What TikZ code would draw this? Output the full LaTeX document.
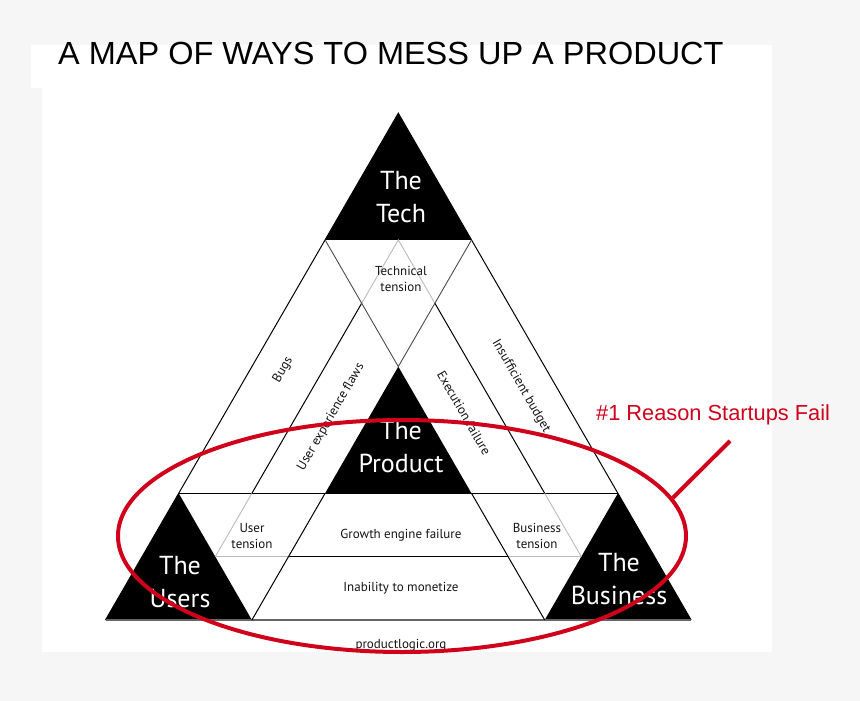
\documentclass[tikz,border=0pt]{standalone}
\usepackage{fontspec}
\setmainfont{PT Sans}
\newfontfamily\headfont{Liberation Sans}
\usetikzlibrary{positioning, shapes.geometric}
\definecolor{failred}{RGB}{208,2,27}
\definecolor{paper}{RGB}{246,246,246}
\tikzset{
  edge/.style={draw=black, line width=1pt},
  faint/.style={draw=black!27, line width=0.9pt},
  soft/.style={draw=black!70, line width=0.9pt},
  corner text/.style={text=white, align=center, inner sep=0pt, font=\fontsize{26}{32.5}\selectfont},
  region/.style={text=black!92, align=center, inner sep=0pt, font=\fontsize{13}{16}\selectfont},
}

\begin{document}
\begin{tikzpicture}[x=1pt, y=-1pt]
\useasboundingbox (0,0) rectangle (860,701);
\fill[paper] (0,0) rectangle (860,701);
\fill[white] (31,45) rectangle (772,88);
\fill[white] (42,88) rectangle (772,652);

\node[anchor=base west, inner sep=0pt, xscale=1.015, font=\headfont\fontsize{32}{32}\selectfont] (title) at (58,64.5) {A MAP OF WAYS TO MESS UP A PRODUCT};

% the big triangle, in triangle units
\begin{scope}[shift={(105.5pt,-620pt)}, x=146.4pt, y=126.7pt]
\coordinate (bl) at (0,0);
\coordinate (br) at (4,0);
\coordinate (top) at (2,4);

% black corners
\fill (1.5,3) -- (2.5,3) -- (2,4) -- cycle;
\fill (1.5,1) -- (2.5,1) -- (2,2) -- cycle;
\fill (0,0) -- (1,0) -- (0.5,1) -- cycle;
\fill (3,0) -- (4,0) -- (3.5,1) -- cycle;

\draw[edge] (bl) -- (top) -- (br);
\draw[black!60, line width=1.5pt] (bl) -- (br);
\draw[edge] (0.5,1) -- (3.5,1);

% half row
\draw[faint] (0.75,0.5) -- (1.25,0.5);
\draw[edge] (1.25,0.5) -- (2.75,0.5);
\draw[faint] (2.75,0.5) -- (3.25,0.5);

% inner strips
\draw[faint] (0.75,0.5) -- (1,1);
\draw[edge] (1,1) -- (1.75,2.5);
\draw[faint] (1.75,2.5) -- (2,3) -- (2.25,2.5);
\draw[edge] (2.25,2.5) -- (3,1);
\draw[faint] (3,1) -- (3.25,0.5);

\draw[edge] (1,0) -- (1.5,1);
\draw[edge] (3,0) -- (2.5,1);
\draw[soft] (1.5,3) -- (2,2) -- (2.5,3);
\end{scope}

\node[corner text] (tech) at (401,197) {The\\Tech};
\node[corner text] (product) at (401,447) {The\\Product};
\node[corner text] (users) at (180,582) {The\\Users};
\node[corner text] (business) at (619,579) {The\\Business};

\node[region] (techtension) at (401,279) {Technical\\tension};
\node[region] (usertension) at (252,536) {User\\tension};
\node[region] (bustension) at (537,536) {Business\\tension};
\node[region, anchor=base] (growth) at (401,538) {Growth engine failure};
\node[region, anchor=base] (monetize) at (401,591) {Inability to monetize};
\node[region, anchor=base] (site) at (401,648) {productlogic.org};
\node[region, rotate=60] (bugs) at (283,370) {Bugs};
\node[region, rotate=60] (uxflaws) at (331,417) {User experience flaws};
\node[region, rotate=-60] (execution) at (464,413) {Execution failure};
\node[region, rotate=-60] (budget) at (521,386) {Insufficient budget};

% the callout
\node[draw=failred, line width=4pt, ellipse, minimum width=568pt, minimum height=232pt, inner sep=0pt] (ring) at (402,536) {};
\node[anchor=base west, text=failred, inner sep=0pt, font=\headfont\fontsize{21.8}{22}\selectfont] (reason) at (596,420) {\#1 Reason Startups Fail};
\coordinate (tip) at (730,441);
\draw[failred, line width=4pt] (ring.8.4) -- (tip);
\end{tikzpicture}
\end{document}
